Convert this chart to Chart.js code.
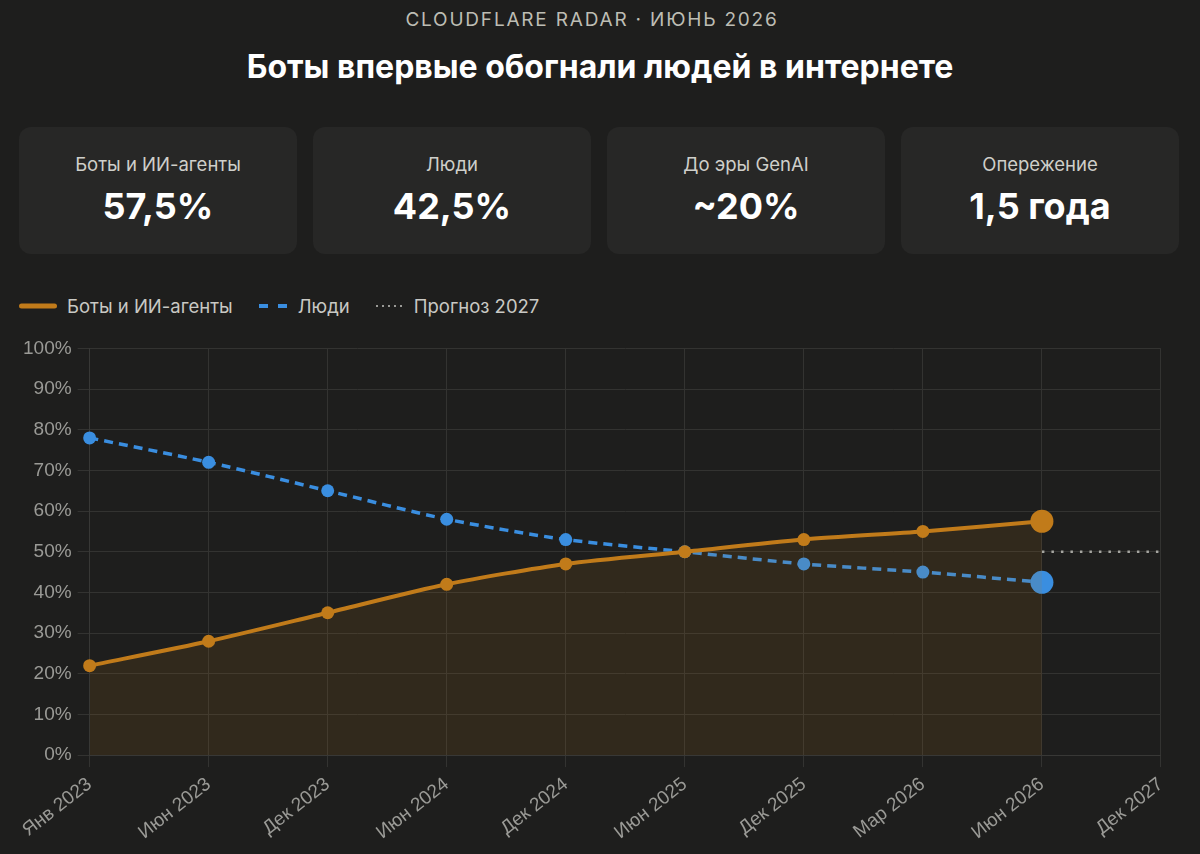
<!DOCTYPE html>
<html lang="ru">
<head>
<meta charset="utf-8">
<script src="https://cdn.jsdelivr.net/npm/chart.js@4.4.1/dist/chart.umd.min.js"></script>
<style>
  html, body { margin: 0; padding: 0; background: #1e1e1d; }
  body { width: 1200px; height: 854px; position: relative; overflow: hidden; font-family: Inter, "Noto Sans", sans-serif; }
  .kicker { position: absolute; top: 8px; left: 0; width: 1184px; text-align: center; color: #bdbdb4; font-size: 19px; letter-spacing: 1.8px; }
  h1 { position: absolute; top: 47px; left: 0; width: 1200px; margin: 0; text-align: center; color: #fff; font-size: 32px; font-weight: 700; }
  .cards { position: absolute; top: 127px; left: 19px; display: flex; gap: 16px; }
  .card { width: 278px; height: 127px; background: #272726; border-radius: 12px; text-align: center; }
  .card .lbl { margin-top: 26px; color: #cfcfca; font-size: 18.5px; }
  .card .val { margin-top: 9px; color: #fff; font-size: 36px; font-weight: 700; }
  .legend { position: absolute; top: 295px; left: 19px; display: flex; align-items: center; color: #c9c9c4; font-size: 18.5px; }
  .legend .item { display: flex; align-items: center; margin-right: 26px; }
  .legend svg { margin-right: 10px; }
  .wrap { position: absolute; top: 331px; left: 17px; width: 1164px; height: 519px; }
</style>
</head>
<body>
<div class="kicker">CLOUDFLARE RADAR · ИЮНЬ 2026</div>
<h1>Боты впервые обогнали людей в интернете</h1>
<div class="cards">
  <div class="card"><div class="lbl">Боты и ИИ-агенты</div><div class="val">57,5%</div></div>
  <div class="card"><div class="lbl">Люди</div><div class="val">42,5%</div></div>
  <div class="card"><div class="lbl">До эры GenAI</div><div class="val">~20%</div></div>
  <div class="card"><div class="lbl">Опережение</div><div class="val">1,5 года</div></div>
</div>
<div class="legend">
  <div class="item"><svg width="38" height="6"><line x1="2.5" y1="3" x2="35.5" y2="3" stroke="#c17b1a" stroke-width="5" stroke-linecap="round"/></svg>Боты и ИИ-агенты</div>
  <div class="item"><svg width="29" height="6"><line x1="0" y1="3" x2="29" y2="3" stroke="#3a8ee0" stroke-width="4" stroke-dasharray="9 10"/></svg>Люди</div>
  <div class="item"><svg width="28" height="6"><line x1="0" y1="3" x2="28" y2="3" stroke="#9a9a96" stroke-width="2" stroke-dasharray="2 4"/></svg>Прогноз 2027</div>
</div>
<div class="wrap"><canvas id="trafficChart"></canvas></div>
<script>
const periods = ['Янв 2023', 'Июн 2023', 'Дек 2023', 'Июн 2024', 'Дек 2024', 'Июн 2025', 'Дек 2025', 'Мар 2026', 'Июн 2026', 'Дек 2027'];
const botsShare = [22, 28, 35, 42, 47, 50, 53, 55, 57.5, null];
const humansShare = [78, 72, 65, 58, 53, 50, 47, 45, 42.5, null];
const forecast2027 = [null, null, null, null, null, null, null, null, 50, 50];

const orange = '#c17b1a';
const blue = '#3a8ee0';
const tickFont = { family: 'Liberation Sans, Arial, sans-serif', size: 19 };

// last real point is drawn bigger
const pointSizes = periods.map((_, i) => i === 8 ? 11.5 : 6.5);

const ctx = document.getElementById('trafficChart').getContext('2d');
const chart = new Chart(ctx, {
    type: 'line',
    data: {
        labels: periods,
        datasets: [{
            label: 'Боты и ИИ-агенты',
            data: botsShare,
            borderColor: orange,
            backgroundColor: 'rgba(193, 123, 26, 0.12)',
            pointBackgroundColor: orange,
            pointBorderWidth: 0,
            pointRadius: pointSizes,
            borderWidth: 4,
            fill: 'origin',
            tension: 0.25
        }, {
            label: 'Люди',
            data: humansShare,
            borderColor: blue,
            pointBackgroundColor: blue,
            pointBorderWidth: 0,
            pointRadius: pointSizes,
            borderWidth: 3.5,
            borderDash: [9, 6],
            fill: false,
            tension: 0.25
        }, {
            label: 'Прогноз 2027',
            data: forecast2027,
            borderColor: '#a5a5a0',
            borderWidth: 2.5,
            borderDash: [2.5, 7],
            pointRadius: 0,
            fill: false
        }]
    },
    options: {
        responsive: true,
        maintainAspectRatio: false,
        animation: false,
        layout: { padding: { right: 4, bottom: 0 } },
        plugins: {
            legend: { display: false },
            tooltip: { enabled: false }
        },
        scales: {
            x: {
                offset: false,
                grid: { color: '#333331', tickLength: 12 },
                border: { color: '#383836' },
                ticks: {
                    color: '#9a9a96',
                    font: tickFont,
                    maxRotation: 38,
                    minRotation: 38,
                    padding: 6
                }
            },
            y: {
                min: 0,
                max: 100,
                grid: { color: '#333331', tickLength: 12 },
                border: { color: '#383836' },
                ticks: {
                    stepSize: 10,
                    color: '#9a9a96',
                    font: tickFont,
                    padding: 6,
                    callback: v => v + '%'
                }
            }
        }
    }
});
</script>
</body>
</html>
